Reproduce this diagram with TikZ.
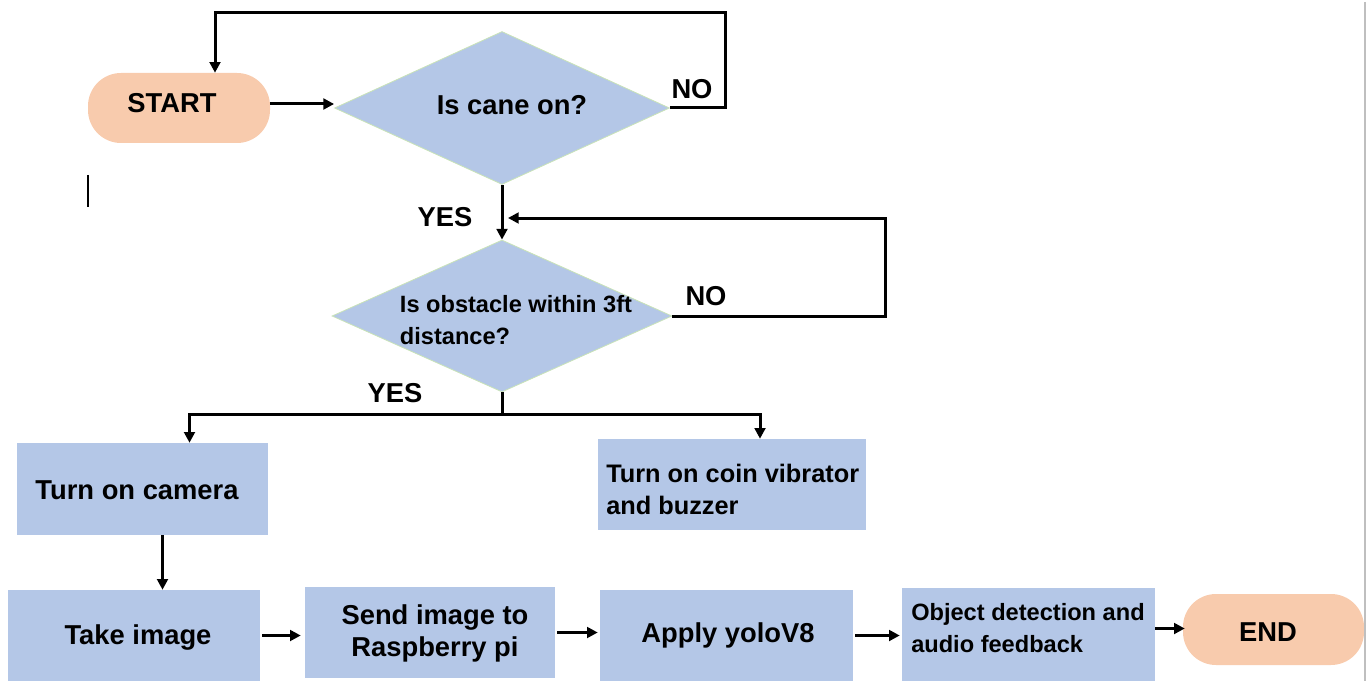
\documentclass[tikz,border=0pt]{standalone}
\usepackage{fontspec}
\setmainfont{Liberation Sans}
\usetikzlibrary{arrows.meta,calc,shapes.geometric}
\definecolor{boxblue}{HTML}{B4C7E7}
\definecolor{peach}{HTML}{F8CBAD}
\definecolor{dborder}{HTML}{C9E3B8}
\newcommand{\px}[1]{#1*0.75pt}
\begin{document}
\begin{tikzpicture}[x=0.75pt,y=-0.75pt,
 base/.style={font=\fontsize{20.5}{24}\selectfont\bfseries, inner sep=0pt},
 box/.style={rectangle, fill=boxblue, inner sep=0pt},
 term/.style={rectangle, rounded corners=\px{33}, fill=peach, inner sep=0pt},
 dia/.style={diamond, fill=boxblue, draw=dborder, line width=0.6pt, inner sep=0pt},
 txt/.style={base, align=center},
 small/.style={font=\fontsize{17.7}{24}\selectfont\bfseries, inner sep=0pt, align=left},
 mid/.style={font=\fontsize{19}{24}\selectfont\bfseries, inner sep=0pt, align=left},
 arr/.style={line width=\px{3}, -{Triangle[length=8pt,width=8pt]}},
 ln/.style={line width=\px{3}},
]
\useasboundingbox (0,0) rectangle (1367,681);

% shapes
\node[term, minimum width=\px{182}, minimum height=\px{70}] (start) at (179,108) {};
\node[dia, minimum width=\px{335}, minimum height=\px{153}] (d1) at (502,108) {};
\node[dia, minimum width=\px{340}, minimum height=\px{152}] (d2) at (502,316) {};
\node[box, minimum width=\px{251}, minimum height=\px{92}] (cam) at (142.5,489) {};
\node[box, minimum width=\px{268}, minimum height=\px{91}] (vib) at (732,484.5) {};
\node[box, minimum width=\px{252}, minimum height=\px{91}] (take) at (134,635.5) {};
\node[box, minimum width=\px{250}, minimum height=\px{91}] (send) at (430,632.5) {};
\node[box, minimum width=\px{253}, minimum height=\px{91}] (apply) at (726.5,635.5) {};
\node[box, minimum width=\px{253}, minimum height=\px{93}] (obj) at (1028.5,634.5) {};
\node[term, minimum width=\px{181}, minimum height=\px{71}] (end) at (1273.5,629.5) {};

% texts
\node[txt] (startt) at (172,103) {START};
\node[txt] (d1t) at (512,105) {Is cane on?};
\node[small] (d2t) at (516,320) {Is obstacle within 3ft\\distance?};
\node[txt] (camt) at (137,490) {Turn on camera};
\node[mid, anchor=west] (vibt) at (606,489) {Turn on coin vibrator\\and buzzer};
\node[txt] (taket) at (138,637) {Take image};
\node[txt] (sendt) at (435,633) {Send image to\\Raspberry pi};
\node[txt] (applyt) at (728,635) {Apply yoloV8};
\node[small, anchor=west] (objt) at (911,628) {Object detection and\\audio feedback};
\node[txt] (endt) at (1268,632) {END};

% labels
\node[txt] (no1) at (692,89) {NO};
\node[txt] (yes1) at (445,217) {YES};
\node[txt] (no2) at (706,296) {NO};
\node[txt] (yes2) at (395,393) {YES};

% connectors
\draw[arr] ($(start.east)+(0,-4)$) -- ($(start.east -| d1.west)+(0,-4)$);
\coordinate (n1) at (725,13);
\draw[arr] (d1.east) -| (n1) -| ($(start.north)+(36,0)$);
\draw[arr] (d1.south) -- (d2.north);
\coordinate (n2) at (885,218);
\draw[arr] (d2.east) -| (n2) -- ($(n2 -| d2.north)+(6,0)$);
\coordinate (split) at (502,414);
\draw[ln] (d2.south) -- (split);
\draw[arr] (split) -| ($(cam.north)+(47,0)$);
\draw[arr] (split) -| ($(vib.north)+(28,0)$);
\coordinate (c1) at ($(cam.south)+(20,0)$);
\draw[arr] (c1) -- (c1 |- take.north);
\draw[arr, shorten <=\px{2}, shorten >=\px{4}] (take.east) -- (take.east -| send.west);
\draw[arr, shorten <=\px{2}, shorten >=\px{2}] (send.east) -- (send.east -| apply.west);
\draw[arr, shorten <=\px{2}, shorten >=\px{2}] (apply.east) -- (apply.east -| obj.west);
\draw[arr] ($(obj.east)+(0,-6)$) -- ($(obj.east -| end.west)+(2,-6)$);

% stray marks of the picture
\draw[line width=\px{1.5}] (88,175) -- (88,207);
\draw[gray!50, line width=\px{2}] (1365,2) -- (1365,681);
\end{tikzpicture}
\end{document}
